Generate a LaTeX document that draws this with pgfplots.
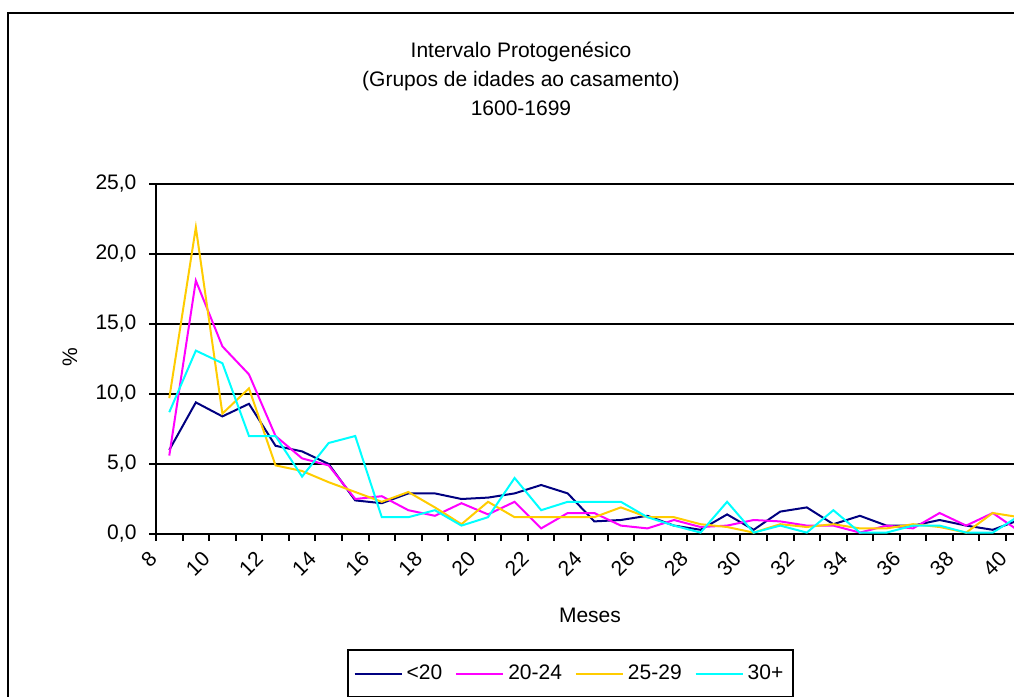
\documentclass[border=0pt]{standalone}
\usepackage{fontspec}
\setmainfont{Liberation Sans}
\usepackage{pgfplots}
\pgfplotsset{compat=1.18}
\usepackage{pgfplotstable}
\definecolor{cNavy}{RGB}{0,0,128}
\definecolor{cMag}{RGB}{255,0,255}
\definecolor{cGold}{RGB}{255,204,0}
\definecolor{cCyan}{RGB}{0,255,255}

\pgfplotstableread{
m    a    b    c    d
8.5  6.0  5.6  9.7  8.7
9.5  9.4  18.1 21.9 13.1
10.5 8.4  13.4 8.6  12.2
11.5 9.3  11.4 10.4 7.0
12.5 6.3  7.0  4.9  7.0
13.5 5.9  5.4  4.5  4.1
14.5 5.0  4.9  3.7  6.5
15.5 2.4  2.5  3.0  7.0
16.5 2.2  2.7  2.3  1.2
17.5 2.9  1.7  3.0  1.2
18.5 2.9  1.3  1.9  1.7
19.5 2.5  2.2  0.7  0.6
20.5 2.6  1.4  2.3  1.2
21.5 2.9  2.3  1.2  4.0
22.5 3.5  0.4  1.2  1.7
23.5 2.9  1.5  1.2  2.3
24.5 0.9  1.5  1.2  2.3
25.5 1.0  0.6  1.9  2.3
26.5 1.3  0.4  1.2  1.2
27.5 0.6  1.0  1.2  0.6
28.5 0.3  0.5  0.7  0.1
29.5 1.4  0.6  0.5  2.3
30.5 0.3  1.0  0.1  0.1
31.5 1.6  0.9  0.7  0.6
32.5 1.9  0.6  0.5  0.1
33.5 0.7  0.6  0.7  1.7
34.5 1.3  0.1  0.4  0.1
35.5 0.6  0.6  0.4  0.1
36.5 0.6  0.4  0.7  0.6
37.5 1.0  1.5  0.5  0.6
38.5 0.6  0.6  0.1  0.1
39.5 0.3  1.5  1.5  0.1
40.5 1.0  0.2  1.2  1.3
}\datatable

\begin{document}
\begin{tikzpicture}
\path[use as bounding box] (-78pt,-81.5pt) rectangle (429pt,267pt);
\draw[line width=1pt] (-74pt,-90pt) -- (-74pt,260.5pt) -- (440pt,260.5pt);
\begin{axis}[
  scale only axis, width=429pt, height=175pt,
  xmin=8, xmax=40.3, ymin=0, ymax=25,
  axis x line=bottom, axis y line=left,
  axis line style={-, line width=1pt, black},
  xtick={8,10,...,40}, minor xtick={9,11,...,39},
  ytick={0,5,...,25},
  tick align=outside, major tick length=3.25pt, minor tick length=3.25pt,
  tick style={black, line width=1pt},
  ymajorgrids, grid style={black, line width=1pt},
  /pgf/number format/assume math mode=true,
  ticklabel style={font=\fontsize{10.5}{12}\selectfont},
  yticklabel style={xshift=-3pt, /pgf/number format/.cd, fixed, fixed zerofill, precision=1, use comma},
  xticklabel style={yshift=-5pt, xshift=1pt, rotate=45, anchor=east},
  title={Intervalo Protogenésico\\(Grupos de idades ao casamento)\\1600-1699},
  title style={at={(axis description cs:0.4254,1.373)}, anchor=north, align=center, inner sep=0pt, font=\fontsize{10.5}{14.5}\selectfont},
  ylabel={\%},
  ylabel style={at={(axis description cs:-0.1002,0.506)}, anchor=center, font=\fontsize{10.5}{12}\selectfont},
  xlabel={Meses},
  xlabel style={at={(axis description cs:0.5058,-0.2314)}, anchor=center, font=\fontsize{10.5}{12}\selectfont},
  legend columns=4,
  legend style={at={(axis description cs:0.4831,-0.3986)}, anchor=center, draw=black, line width=1pt, fill=white,
    inner ysep=5.5pt,
    font=\fontsize{10.5}{12}\selectfont, /tikz/every even column/.append style={column sep=4.5pt}},
  legend image code/.code={\draw[#1] (0pt,0pt) -- (23.5pt,0pt);},
  every axis plot/.append style={line width=1pt, no markers},
]
\addplot[cNavy] table[x=m, y=a] {\datatable};
\addlegendentry{<20}
\addplot[cMag] table[x=m, y=b] {\datatable};
\addlegendentry{20-24}
\addplot[cGold] table[x=m, y=c] {\datatable};
\addlegendentry{25-29}
\addplot[cCyan] table[x=m, y=d] {\datatable};
\addlegendentry{30+}
\end{axis}
\end{tikzpicture}
\end{document}
